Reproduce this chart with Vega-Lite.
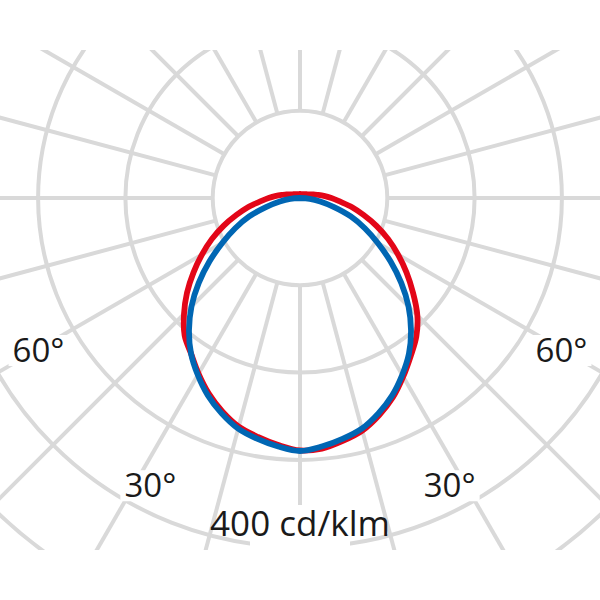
{
  "$schema": "https://vega.github.io/schema/vega-lite/v6.json",
  "width": 600,
  "height": 500,
  "autosize": "none",
  "padding": {"left": 0, "right": 0, "top": 50, "bottom": 50},
  "background": "#ffffff",
  "config": {"view": {"stroke": null}},
  "datasets": {
    "rings": [{"cd": 100}, {"cd": 200}, {"cd": 300}, {"cd": 400}, {"cd": 500}],
    "spokes": [
      {"angle": 0}, {"angle": 15}, {"angle": 30}, {"angle": 45}, {"angle": 60}, {"angle": 75},
      {"angle": 90}, {"angle": 105}, {"angle": 120}, {"angle": 135}, {"angle": 150}, {"angle": 165},
      {"angle": 180}, {"angle": 195}, {"angle": 210}, {"angle": 225}, {"angle": 240}, {"angle": 255},
      {"angle": 270}, {"angle": 285}, {"angle": 300}, {"angle": 315}, {"angle": 330}, {"angle": 345}
    ],
    "curves": [
      {"plane": "C0-C180", "angle": -180, "cd": 4.6},
      {"plane": "C0-C180", "angle": -165, "cd": 4.6},
      {"plane": "C0-C180", "angle": -150, "cd": 5.2},
      {"plane": "C0-C180", "angle": -135, "cd": 6.3},
      {"plane": "C0-C180", "angle": -120, "cd": 8.6},
      {"plane": "C0-C180", "angle": -110, "cd": 12.0},
      {"plane": "C0-C180", "angle": -105, "cd": 16.0},
      {"plane": "C0-C180", "angle": -100, "cd": 20.6},
      {"plane": "C0-C180", "angle": -95, "cd": 27.5},
      {"plane": "C0-C180", "angle": -90, "cd": 35.9},
      {"plane": "C0-C180", "angle": -85, "cd": 45.7},
      {"plane": "C0-C180", "angle": -80, "cd": 60.6},
      {"plane": "C0-C180", "angle": -75, "cd": 75.5},
      {"plane": "C0-C180", "angle": -70, "cd": 93.2},
      {"plane": "C0-C180", "angle": -65, "cd": 111.5},
      {"plane": "C0-C180", "angle": -60, "cd": 129.7},
      {"plane": "C0-C180", "angle": -55, "cd": 149.0},
      {"plane": "C0-C180", "angle": -50, "cd": 169.0},
      {"plane": "C0-C180", "angle": -45, "cd": 187.9},
      {"plane": "C0-C180", "angle": -40, "cd": 205.6},
      {"plane": "C0-C180", "angle": -35, "cd": 217.6},
      {"plane": "C0-C180", "angle": -30, "cd": 232.5},
      {"plane": "C0-C180", "angle": -25, "cd": 247.3},
      {"plane": "C0-C180", "angle": -20, "cd": 260.2},
      {"plane": "C0-C180", "angle": -15, "cd": 271.2},
      {"plane": "C0-C180", "angle": -10, "cd": 277.9},
      {"plane": "C0-C180", "angle": -5, "cd": 284.1},
      {"plane": "C0-C180", "angle": 0, "cd": 289.2},
      {"plane": "C0-C180", "angle": 5, "cd": 288.1},
      {"plane": "C0-C180", "angle": 10, "cd": 282.5},
      {"plane": "C0-C180", "angle": 15, "cd": 275.8},
      {"plane": "C0-C180", "angle": 20, "cd": 264.8},
      {"plane": "C0-C180", "angle": 25, "cd": 251.9},
      {"plane": "C0-C180", "angle": 30, "cd": 236.4},
      {"plane": "C0-C180", "angle": 35, "cd": 221.1},
      {"plane": "C0-C180", "angle": 40, "cd": 207.3},
      {"plane": "C0-C180", "angle": 45, "cd": 190.1},
      {"plane": "C0-C180", "angle": 50, "cd": 169.0},
      {"plane": "C0-C180", "angle": 55, "cd": 149.0},
      {"plane": "C0-C180", "angle": 60, "cd": 129.7},
      {"plane": "C0-C180", "angle": 65, "cd": 111.5},
      {"plane": "C0-C180", "angle": 70, "cd": 93.2},
      {"plane": "C0-C180", "angle": 75, "cd": 75.5},
      {"plane": "C0-C180", "angle": 80, "cd": 60.6},
      {"plane": "C0-C180", "angle": 85, "cd": 45.7},
      {"plane": "C0-C180", "angle": 90, "cd": 35.9},
      {"plane": "C0-C180", "angle": 95, "cd": 27.5},
      {"plane": "C0-C180", "angle": 100, "cd": 20.6},
      {"plane": "C0-C180", "angle": 105, "cd": 16.0},
      {"plane": "C0-C180", "angle": 110, "cd": 12.0},
      {"plane": "C0-C180", "angle": 120, "cd": 8.6},
      {"plane": "C0-C180", "angle": 135, "cd": 6.3},
      {"plane": "C0-C180", "angle": 150, "cd": 5.2},
      {"plane": "C0-C180", "angle": 165, "cd": 4.6},
      {"plane": "C0-C180", "angle": 180, "cd": 4.6},
      {"plane": "C90-C270", "angle": -90, "cd": 0},
      {"plane": "C90-C270", "angle": -85, "cd": 11.2},
      {"plane": "C90-C270", "angle": -80, "cd": 23.5},
      {"plane": "C90-C270", "angle": -75, "cd": 40.4},
      {"plane": "C90-C270", "angle": -70, "cd": 61.9},
      {"plane": "C90-C270", "angle": -65, "cd": 81.9},
      {"plane": "C90-C270", "angle": -60, "cd": 102.6},
      {"plane": "C90-C270", "angle": -55, "cd": 126.5},
      {"plane": "C90-C270", "angle": -50, "cd": 151.4},
      {"plane": "C90-C270", "angle": -45, "cd": 175.8},
      {"plane": "C90-C270", "angle": -40, "cd": 197.8},
      {"plane": "C90-C270", "angle": -35, "cd": 217.6},
      {"plane": "C90-C270", "angle": -30, "cd": 234.1},
      {"plane": "C90-C270", "angle": -25, "cd": 249.6},
      {"plane": "C90-C270", "angle": -20, "cd": 262.5},
      {"plane": "C90-C270", "angle": -15, "cd": 273.5},
      {"plane": "C90-C270", "angle": -10, "cd": 280.2},
      {"plane": "C90-C270", "angle": -5, "cd": 285.8},
      {"plane": "C90-C270", "angle": 0, "cd": 289.8},
      {"plane": "C90-C270", "angle": 5, "cd": 285.8},
      {"plane": "C90-C270", "angle": 10, "cd": 280.2},
      {"plane": "C90-C270", "angle": 15, "cd": 273.5},
      {"plane": "C90-C270", "angle": 20, "cd": 262.5},
      {"plane": "C90-C270", "angle": 25, "cd": 249.6},
      {"plane": "C90-C270", "angle": 30, "cd": 234.1},
      {"plane": "C90-C270", "angle": 35, "cd": 217.6},
      {"plane": "C90-C270", "angle": 40, "cd": 197.8},
      {"plane": "C90-C270", "angle": 45, "cd": 175.8},
      {"plane": "C90-C270", "angle": 50, "cd": 151.4},
      {"plane": "C90-C270", "angle": 55, "cd": 126.5},
      {"plane": "C90-C270", "angle": 60, "cd": 102.6},
      {"plane": "C90-C270", "angle": 65, "cd": 81.9},
      {"plane": "C90-C270", "angle": 70, "cd": 61.9},
      {"plane": "C90-C270", "angle": 75, "cd": 40.4},
      {"plane": "C90-C270", "angle": 80, "cd": 23.5},
      {"plane": "C90-C270", "angle": 85, "cd": 11.2},
      {"plane": "C90-C270", "angle": 90, "cd": 0}
    ],
    "labels": [
      {"text": "60°", "x": -299.5, "y": -187.3},
      {"text": "60°", "x": 299.5, "y": -187.3},
      {"text": "30°", "x": -171.4, "y": -342.2},
      {"text": "30°", "x": 171.4, "y": -342.2}
    ],
    "unit": [
      {"text": "400 cd/klm", "x": 0, "y": -387.7}
    ]
  },
  "layer": [
    {
      "data": {"name": "spokes"},
      "transform": [
        {"calculate": "100 * sin(datum.angle * PI / 180)", "as": "x"},
        {"calculate": "-100 * cos(datum.angle * PI / 180)", "as": "y"},
        {"calculate": "1000 * sin(datum.angle * PI / 180)", "as": "x2"},
        {"calculate": "-1000 * cos(datum.angle * PI / 180)", "as": "y2"}
      ],
      "mark": {"type": "rule", "color": "#d9d9d9", "strokeWidth": 4, "clip": true},
      "encoding": {
        "x": {"field": "x", "type": "quantitative", "scale": {"domain": [-343.64, 343.64], "nice": false, "zero": false}, "axis": null},
        "y": {"field": "y", "type": "quantitative", "scale": {"domain": [-403.2, 169.5], "nice": false, "zero": false}, "axis": null},
        "x2": {"field": "x2"},
        "y2": {"field": "y2"}
      }
    },
    {
      "data": {"name": "rings"},
      "mark": {"type": "point", "shape": "circle", "filled": false, "stroke": "#d9d9d9", "strokeWidth": 4, "opacity": 1, "clip": true},
      "encoding": {
        "x": {"datum": 0, "type": "quantitative", "scale": {"domain": [-343.64, 343.64], "nice": false, "zero": false}, "axis": null},
        "y": {"datum": 0, "type": "quantitative", "scale": {"domain": [-403.2, 169.5], "nice": false, "zero": false}, "axis": null},
        "size": {"field": "cd", "type": "quantitative", "scale": {"type": "pow", "exponent": 2, "domain": [0, 100], "range": [0, 30485], "clamp": false}, "legend": null}
      }
    },
    {
      "data": {"name": "curves"},
      "transform": [
        {"calculate": "datum.cd * sin(datum.angle * PI / 180)", "as": "x"},
        {"calculate": "-datum.cd * cos(datum.angle * PI / 180)", "as": "y"}
      ],
      "mark": {"type": "line", "strokeWidth": 5.8, "interpolate": "catmull-rom", "strokeCap": "round", "strokeJoin": "round", "clip": true},
      "encoding": {
        "x": {"field": "x", "type": "quantitative", "scale": {"domain": [-343.64, 343.64], "nice": false, "zero": false}, "axis": null},
        "y": {"field": "y", "type": "quantitative", "scale": {"domain": [-403.2, 169.5], "nice": false, "zero": false}, "axis": null},
        "color": {"field": "plane", "type": "nominal", "scale": {"domain": ["C0-C180", "C90-C270"], "range": ["#e30618", "#0066b3"]}, "legend": null},
        "order": {"field": "angle", "type": "quantitative"}
      }
    },
    {
      "data": {"name": "labels"},
      "mark": {"type": "point", "shape": "M-1,-0.52H1V0.52H-1Z", "filled": true, "fill": "#ffffff", "strokeWidth": 0, "opacity": 1, "size": 3600, "yOffset": -11},
      "encoding": {
        "x": {"field": "x", "type": "quantitative", "scale": {"domain": [-343.64, 343.64], "nice": false, "zero": false}, "axis": null},
        "y": {"field": "y", "type": "quantitative", "scale": {"domain": [-403.2, 169.5], "nice": false, "zero": false}, "axis": null}
      }
    },
    {
      "data": {"name": "unit"},
      "mark": {"type": "point", "shape": "M-1,-0.45H1V0.45H-1Z", "filled": true, "fill": "#ffffff", "strokeWidth": 0, "opacity": 1, "size": 10000, "yOffset": -9},
      "encoding": {
        "x": {"field": "x", "type": "quantitative", "scale": {"domain": [-343.64, 343.64], "nice": false, "zero": false}, "axis": null},
        "y": {"field": "y", "type": "quantitative", "scale": {"domain": [-403.2, 169.5], "nice": false, "zero": false}, "axis": null}
      }
    },
    {
      "data": {"name": "labels"},
      "mark": {"type": "text", "font": "Open Sans", "fontSize": 33, "align": "center", "baseline": "alphabetic", "color": "#1a1a1a"},
      "encoding": {
        "x": {"field": "x", "type": "quantitative", "scale": {"domain": [-343.64, 343.64], "nice": false, "zero": false}, "axis": null},
        "y": {"field": "y", "type": "quantitative", "scale": {"domain": [-403.2, 169.5], "nice": false, "zero": false}, "axis": null},
        "text": {"field": "text", "type": "nominal"}
      }
    },
    {
      "data": {"name": "unit"},
      "mark": {"type": "text", "font": "Open Sans", "fontSize": 35, "align": "center", "baseline": "alphabetic", "color": "#1a1a1a"},
      "encoding": {
        "x": {"field": "x", "type": "quantitative", "scale": {"domain": [-343.64, 343.64], "nice": false, "zero": false}, "axis": null},
        "y": {"field": "y", "type": "quantitative", "scale": {"domain": [-403.2, 169.5], "nice": false, "zero": false}, "axis": null},
        "text": {"field": "text", "type": "nominal"}
      }
    }
  ]
}
